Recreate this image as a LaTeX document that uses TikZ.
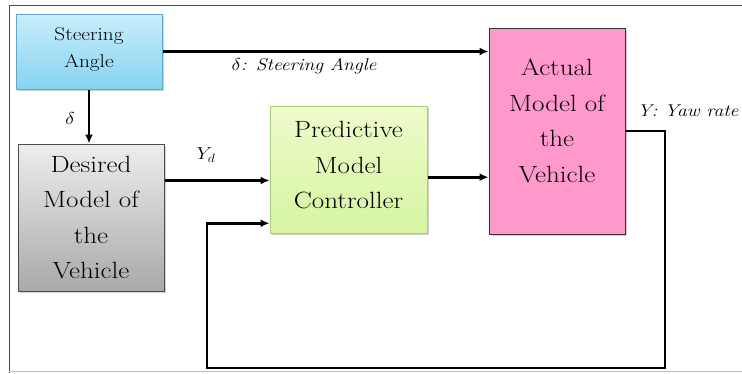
\documentclass[tikz,border=0pt]{standalone}
\usetikzlibrary{arrows.meta,calc,shadows}
\definecolor{saTop}{HTML}{C8EEFB}
\definecolor{saBot}{HTML}{86D3F1}
\definecolor{saLine}{HTML}{5FA8CC}
\definecolor{dmTop}{HTML}{EDEDED}
\definecolor{dmBot}{HTML}{A9A9A9}
\definecolor{pmTop}{HTML}{EEFBCB}
\definecolor{pmBot}{HTML}{D6F5A2}
\definecolor{pmLine}{HTML}{A9CF72}
\definecolor{amFill}{HTML}{FF99CC}
\tikzset{
  blk/.style={rectangle, inner sep=0pt,
    drop shadow={shadow xshift=2pt, shadow yshift=-2pt, opacity=0.35}},
  txt/.style={align=center, text=black, inner sep=0pt, xscale=1.15, transform shape},
  bigtxt/.style={txt, font=\fontsize{23.5}{35.5}\selectfont},
  arr/.style={line width=2.8pt, -{Latex[length=9pt,width=8pt]}},
  lbl/.style={txt, font=\fontsize{17}{20}\selectfont\itshape}
}
\begin{document}
\begin{tikzpicture}[x=1pt,y=-1pt]
\useasboundingbox (0,0) rectangle (742,373);
\fill[white] (0,0) rectangle (742,373);
% frame
\draw[black!70, line width=1pt] (9,373) -- (9,5) -- (742,5);
\draw[black!25, line width=1pt] (9,371.5) -- (742,371.5);
% blocks
\node[blk, draw=saLine, line width=1pt, top color=saTop, bottom color=saBot,
  minimum width=146pt, minimum height=75pt] (sa) at (89,51.5) {};
\node[txt, font=\fontsize{18.5}{27}\selectfont] (satxt) at (89,49) {Steering\\Angle};
\node[blk, draw=black!70, line width=1pt, top color=dmTop, bottom color=dmBot,
  minimum width=146pt, minimum height=147pt] (dm) at (91,217.5) {};
\node[bigtxt] (dmtxt) at (91,217.5) {Desired\\Model of\\the\\Vehicle};
\node[blk, draw=pmLine, line width=1pt, top color=pmTop, bottom color=pmBot,
  minimum width=157pt, minimum height=127pt] (pm) at (348.5,169.5) {};
\node[bigtxt] (pmtxt) at (348.5,165.5) {Predictive\\Model\\Controller};
\node[blk, draw=black!80, line width=1pt, fill=amFill,
  minimum width=136pt, minimum height=206pt] (am) at (557,131) {};
\node[bigtxt] (amtxt) at (557,121) {Actual\\Model of\\the\\Vehicle};
% connectors
\draw[arr] (sa.east) -- (sa.east -| am.west);
\draw[arr] (sa.south) -- (sa.south |- dm.north);
\coordinate (dmout) at ($(dm.north east)!0.25!(dm.south east)$);
\draw[arr] (dmout) -- (dmout -| pm.west);
\coordinate (pmout) at ($(pm.north east)!0.56!(pm.south east)$);
\draw[arr] (pmout) -- (pmout -| am.west);
\coordinate (fbin) at ($(pm.north west)!0.92!(pm.south west)$);
\coordinate (c1) at (665,131);
\coordinate (c2) at (665,368);
\coordinate (c3) at (207,368);
\draw[arr] (am.east) -- (c1) -- (c2) -- (c3) -- (c3 |- fbin) -- (fbin);
% labels
\node[lbl] (l1) at (304,66) {$\delta$: Steering Angle};
\node[lbl] (l2) at (70,118) {$\delta$};
\node[lbl] (l3) at (206,155) {$Y_d$};
\node[lbl] (l4) at (688,111) {Y: Yaw rate};
\end{tikzpicture}
\end{document}
